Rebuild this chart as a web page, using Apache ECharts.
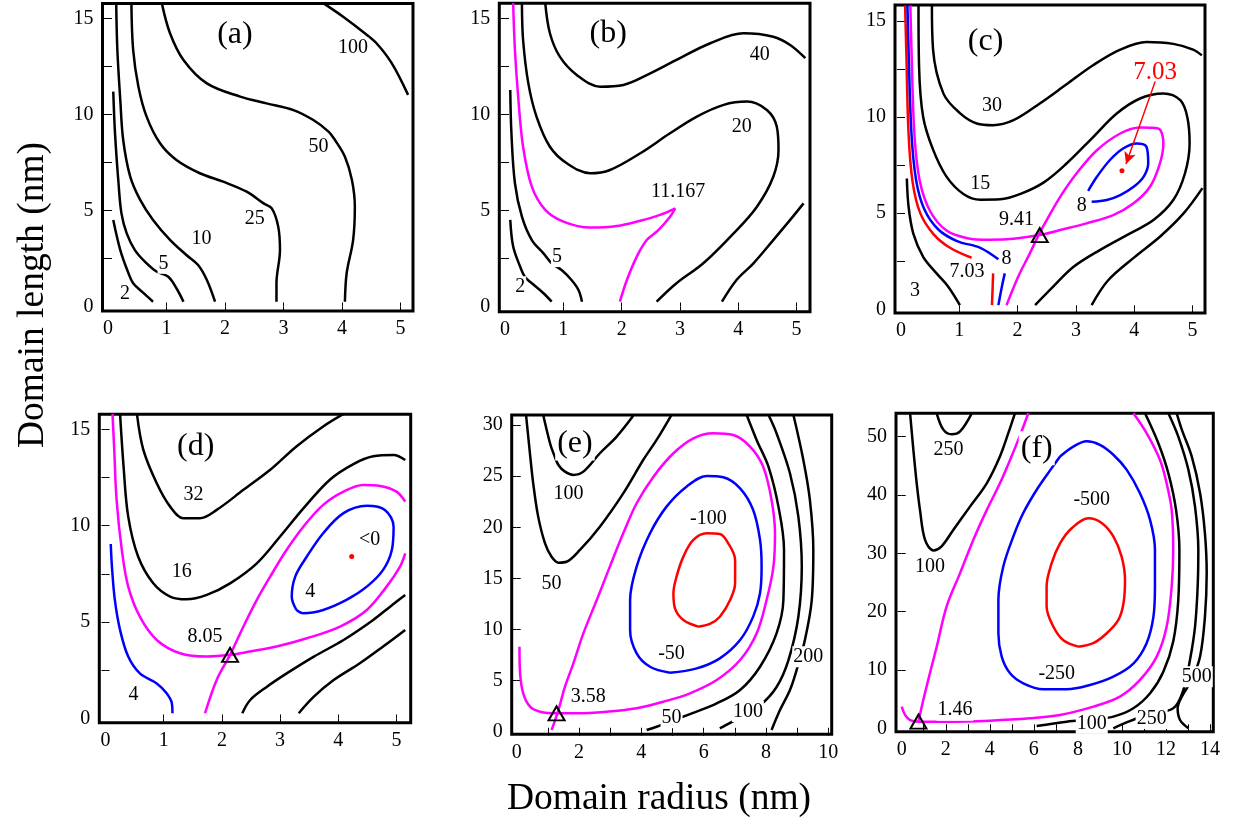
<!DOCTYPE html>
<html><head><meta charset="utf-8">
<script src="https://cdn.jsdelivr.net/npm/echarts@6/dist/echarts.min.js"></script>
<style>html,body{margin:0;padding:0;background:#fff}#c{width:1236px;height:832px}</style>
</head><body><div id="c"></div>
<script>
// ---------------- DATA ----------------
// Panel (a)
const a_2 = [[0.09,4.5],[0.21,2.94],[0.35,1.73],[0.43,1.21],[0.60,0.72],[0.77,0.25]];
const a_5 = [[0.09,11.19],[0.12,9.02],[0.18,6.42],[0.23,4.85],[0.32,3.81],[0.46,2.94],[0.63,2.34],[0.83,1.82],[1.03,1.55],[1.17,0.95],[1.29,0.25]];
const a_10 = [[0.14,15.8],[0.16,13.36],[0.21,10.76],[0.26,8.67],[0.38,6.76],[0.55,5.55],[0.77,4.51],[1.06,3.47],[1.34,2.68],[1.54,2.16],[1.69,1.38],[1.83,0.25]];
const a_25 = [[0.40,15.8],[0.43,13.36],[0.52,11.45],[0.66,9.89],[0.89,8.50],[1.17,7.63],[1.57,6.94],[1.97,6.50],[2.37,5.98],[2.66,5.37],[2.80,5.11],[2.91,4.16],[2.94,2.94],[2.88,1.21],[2.88,0.25]];
const a_50 = [[0.92,15.8],[1.06,14.23],[1.29,12.84],[1.69,11.62],[2.26,10.93],[2.71,10.58],[3.17,10.23],[3.51,9.71],[3.77,9.11],[3.88,8.67],[4.05,7.80],[4.17,6.59],[4.22,5.20],[4.19,3.46],[4.08,1.73],[4.05,0.25]];
const a_100 = [[3.68,15.8],[4.02,15.09],[4.39,14.23],[4.59,13.71],[4.85,12.67],[5.13,11.02]];
const a_labels = [[0.29,0.69,'2'],[0.95,2.25,'5'],[1.60,3.55,'10'],[2.51,4.59,'25'],[3.60,8.32,'50'],[4.19,13.45,'100']];

// Panel (b)
const b_2 = [[0.09,4.51],[0.14,3.12],[0.26,2.07],[0.34,1.55],[0.46,1.21],[0.66,0.69],[0.80,0.25]];
const b_5 = [[0.09,11.28],[0.11,9.02],[0.17,6.42],[0.29,4.68],[0.46,3.46],[0.66,2.77],[0.80,2.25],[0.97,1.90],[1.14,1.38],[1.26,0.86],[1.32,0.25]];
const b_m1 = [[0.14,15.8],[0.17,13.36],[0.23,10.76],[0.31,8.32],[0.46,6.24],[0.69,5.03],[1.00,4.42],[1.46,4.11],[1.92,4.19],[2.32,4.47],[2.66,4.77],[2.92,5.11]];
const b_m2 = [[2.92,5.11],[2.83,4.68],[2.63,3.98],[2.43,3.46],[2.26,2.60],[2.09,1.38],[1.97,0.25]];
const b_20 = [[0.29,15.8],[0.31,13.88],[0.40,11.62],[0.54,9.89],[0.77,8.32],[1.06,7.46],[1.46,6.94],[1.80,7.11],[2.32,7.98],[2.83,9.02],[3.29,9.89],[3.75,10.50],[4.15,10.67],[4.49,10.23],[4.66,9.37],[4.69,8.15],[4.60,6.76],[4.32,5.20],[3.92,3.81],[3.40,2.25],[2.94,1.21],[2.60,0.25]];
const b_40 = [[0.69,15.8],[0.77,14.23],[0.94,13.01],[1.23,12.06],[1.63,11.45],[2.03,11.54],[2.49,12.14],[2.94,12.84],[3.52,13.71],[4.09,14.23],[4.60,14.05],[4.89,13.62],[5.15,12.93]];
const b_hi = [[5.12,5.37],[4.89,4.51],[4.60,3.46],[4.26,2.25],[3.97,1.38],[3.72,0.25]];
const b_labels = [[0.26,1.03,'2'],[0.89,2.60,'5'],[2.97,5.98,'11.167'],[4.06,9.37,'20'],[4.37,13.10,'40']];

// Panel (c)
const c_3 = [[0.10,6.8],[0.13,5.33],[0.21,3.95],[0.38,2.73],[0.61,1.87],[0.81,1.18],[1.01,0.22]];
const c_r1 = [[0.07,15.8],[0.09,13.5],[0.13,9.1],[0.20,6.6],[0.33,5.0],[0.56,3.9],[0.84,3.2],[1.21,2.68]];
const c_r2 = [[1.58,1.87],[1.57,1.0],[1.56,0.22]];
const c_b1 = [[0.11,15.8],[0.13,13.5],[0.18,9.1],[0.26,6.7],[0.40,5.2],[0.64,4.15],[0.96,3.55],[1.36,3.2],[1.67,2.6]];
const c_b2 = [[1.78,1.87],[1.73,1.18],[1.67,0.22]];
const c_bi = [[3.21,6.16],[3.36,6.89],[3.58,7.75],[3.81,8.36],[4.04,8.62],[4.21,8.45],[4.24,7.58],[4.16,6.89],[3.99,6.37],[3.76,5.94],[3.53,5.68],[3.27,5.59]];
const c_m = [[0.16,15.8],[0.18,13.5],[0.23,9.1],[0.32,6.7],[0.50,5.1],[0.78,4.1],[1.14,3.7],[1.50,3.62],[1.81,3.64],[2.38,3.86],[2.73,4.12],[3.18,4.47],[3.64,4.90],[3.99,5.51],[4.27,6.37],[4.44,7.58],[4.50,8.62],[4.41,9.40],[4.10,9.45],[3.76,9.14],[3.36,8.27],[3.01,7.06],[2.73,5.85],[2.50,4.64],[2.36,3.86],[2.21,2.91],[2.01,1.70],[1.81,0.22]];
const c_15 = [[0.30,15.8],[0.31,12.6],[0.38,10.0],[0.55,8.3],[0.78,6.9],[1.07,6.0],[1.36,5.7],[1.70,5.72],[2.05,6.0],[2.45,6.6],[2.84,7.58],[3.30,8.97],[3.70,10.18],[4.10,10.96],[4.50,11.22],[4.79,10.87],[4.91,10.0],[4.95,8.62],[4.87,7.06],[4.67,5.68],[4.33,4.64],[3.93,3.95],[3.41,3.08],[2.96,2.21],[2.61,1.18],[2.30,0.22]];
const c_30 = [[0.53,15.8],[0.55,13.5],[0.73,11.2],[1.01,10.2],[1.30,9.66],[1.58,9.57],[1.93,9.83],[2.38,10.7],[2.84,11.7],[3.30,12.7],[3.76,13.5],[4.21,13.9],[4.67,13.8],[5.01,13.5],[5.16,13.2]];
const c_hi = [[5.17,6.3],[4.85,5.0],[4.45,3.8],[4.0,2.7],[3.55,1.5],[3.27,0.22]];
const c_labels = [[0.24,0.95,'3'],[1.13,1.95,'7.03'],[1.81,2.65,'8'],[1.98,4.64,'9.41'],[1.36,6.55,'15'],[1.56,10.6,'30'],[3.10,5.40,'8']];
const c_saddle = [[2.38,3.86]];
const c_min = [[3.79,7.20]];

// Panel (d)
const d_4a = [[0.09,9.05],[0.11,7.88],[0.16,6.15],[0.25,4.59],[0.39,3.21],[0.59,2.34],[0.88,1.82],[1.05,1.31],[1.14,0.79],[1.15,0.27]];
const d_m1 = [[0.12,15.8],[0.15,13.93],[0.19,11.34],[0.28,8.74],[0.39,6.84],[0.59,5.28],[0.88,4.07],[1.28,3.38],[1.74,3.21],[2.14,3.30],[2.48,3.47],[2.94,3.73],[3.46,4.16],[4.03,4.77],[4.49,5.63],[4.83,6.84],[5.06,7.88],[5.15,8.57]];
const d_m2 = [[5.15,11.25],[5.00,11.77],[4.72,12.06],[4.43,12.11],[4.09,11.77],[3.74,11.08],[3.40,9.95],[3.11,8.74],[2.83,7.36],[2.60,6.15],[2.37,4.77],[2.14,3.30],[1.91,2.00],[1.71,0.27]];
const d_4b = [[3.28,5.63],[3.20,6.32],[3.26,7.36],[3.46,8.40],[3.74,9.61],[4.09,10.65],[4.49,11.03],[4.80,10.82],[4.95,9.95],[4.92,8.74],[4.77,7.71],[4.49,6.84],[4.14,6.15],[3.74,5.63],[3.40,5.46],[3.28,5.63]];
const d_32 = [[4.09,15.8],[3.74,15.15],[3.28,14.11],[2.83,12.90],[2.37,11.86],[1.91,10.82],[1.62,10.39],[1.34,10.39],[1.11,10.99],[0.88,12.20],[0.65,13.93],[0.54,15.8]];
const d_16 = [[0.25,15.8],[0.31,13.07],[0.39,10.47],[0.56,8.40],[0.82,7.01],[1.11,6.32],[1.39,6.18],[1.74,6.41],[2.14,7.01],[2.60,8.05],[3.00,9.44],[3.40,10.9],[3.86,12.4],[4.26,13.2],[4.60,13.6],[4.95,13.67],[5.15,13.41]];
const d_h1 = [[2.35,0.27],[2.49,0.97],[2.78,1.66],[3.12,2.35],[3.58,3.21],[4.09,4.07],[4.60,5.11],[4.89,5.80],[5.15,6.40]];
const d_h2 = [[3.32,0.27],[3.58,1.13],[3.92,1.99],[4.37,2.86],[4.77,3.73],[5.15,4.59]];
const d_labels = [[0.48,1.22,'4'],[1.51,11.6,'32'],[1.31,7.62,'16'],[1.71,4.25,'8.05'],[3.52,6.58,'4'],[4.54,9.26,'<0']];
const d_saddle = [[2.14,3.30]];
const d_min = [[4.23,8.40]];

// Panel (e)
const e_100a = [[0.85,31.0],[1.07,28.22],[1.20,27.08],[1.34,26.09],[1.55,25.44],[1.82,25.12],[2.14,25.44],[2.67,27.24],[3.21,28.87],[3.74,30.9]];
const e_50a = [[0.30,31.0],[0.43,27.08],[0.53,24.30],[0.69,21.04],[0.91,18.43],[1.12,17.12],[1.34,16.54],[1.60,16.63],[2.03,17.78],[2.67,20.06],[3.42,23.32],[4.06,26.58],[4.49,28.54],[4.97,31.0]];
const e_m = [[0.09,8.32],[0.11,5.71],[0.21,3.76],[0.43,2.45],[0.75,1.96],[1.28,1.80],[1.92,1.80],[2.89,1.96],[3.85,2.29],[4.71,2.94],[5.56,3.76],[6.42,5.06],[7.17,7.02],[7.70,9.62],[8.02,12.88],[8.24,16.15],[8.29,19.41],[8.18,22.67],[7.91,25.93],[7.49,27.89],[6.95,29.03],[6.31,29.19],[5.67,28.70],[5.03,27.24],[4.39,24.95],[3.85,22.35],[3.42,19.41],[2.99,16.15],[2.57,12.88],[2.14,9.62],[1.82,6.69],[1.55,4.41],[1.34,2.12],[1.12,0.17]];
const e_b = [[4.92,5.77],[4.28,6.36],[3.85,7.67],[3.64,9.95],[3.64,12.88],[3.85,16.15],[4.28,19.41],[4.81,22.02],[5.45,23.97],[6.10,25.02],[6.63,24.89],[7.17,23.81],[7.59,21.69],[7.81,18.76],[7.86,16.15],[7.81,13.54],[7.59,11.26],[7.17,8.97],[6.52,7.18],[5.78,6.20],[4.92,5.77]];
const e_r = [[5.83,10.28],[5.35,10.93],[5.08,12.07],[5.03,13.54],[5.13,15.17],[5.35,17.13],[5.67,18.76],[6.10,19.41],[6.52,19.34],[6.79,18.43],[7.01,16.80],[7.01,14.52],[6.85,12.88],[6.52,11.25],[6.20,10.54],[5.83,10.28]];
const e_50b = [[4.17,0.17],[4.49,0.49],[5.0,1.1],[5.56,1.73],[6.42,2.77],[7.17,4.08],[7.81,6.36],[8.34,9.62],[8.56,12.88],[8.58,17.78],[8.40,22.02],[8.08,25.93],[7.70,28.54],[7.38,31.0]];
const e_100b = [[6.52,0.33],[7.17,1.40],[7.81,2.58],[8.34,4.38],[8.72,6.99],[9.04,11.25],[9.15,16.15],[9.04,21.04],[8.77,25.28],[8.34,29.19],[8.08,31.0]];
const e_200 = [[8.18,0.17],[8.45,2.12],[8.77,4.08],[9.0,6.2],[9.25,8.97],[9.47,12.88],[9.52,17.78],[9.41,22.67],[9.20,26.58],[8.88,31.0]];
const e_labels = [[1.66,23.32,'100'],[1.12,14.51,'50'],[6.15,20.88,'-100'],[4.97,7.67,'-50'],[2.30,3.43,'3.58'],[4.97,1.37,'50'],[7.42,1.98,'100'],[9.36,7.34,'200']];
const e_saddle = [[1.28,1.80]];

// Panel (f)
const f_250a = [[1.59,54.0],[1.89,51.2],[2.27,50.4],[2.65,50.9],[3.18,54.0]];
const f_100a = [[0.38,54.0],[0.53,47.7],[0.68,42.0],[0.83,37.4],[1.06,32.3],[1.44,30.5],[1.81,31.2],[2.34,34.0],[3.10,38.0],[3.86,42.0],[4.46,46.6],[4.84,50.6],[5.14,54.0]];
const f_m = [[0.00,3.7],[0.15,2.3],[0.38,1.4],[0.76,1.14],[2.04,1.14],[4.01,1.31],[5.83,1.71],[7.19,2.28],[8.70,3.71],[9.91,5.43],[10.82,8.29],[11.58,12.29],[12.03,17.4],[12.26,24.3],[12.33,30.6],[12.26,37.4],[12.03,42.0],[11.73,46.0],[11.12,50.6],[10.52,54.0]];
const f_m2 = [[0.76,1.14],[0.98,4.86],[1.28,9.43],[1.59,14.0],[2.04,20.9],[2.65,26.6],[3.25,32.3],[3.86,37.4],[4.46,42.0],[4.92,46.0],[5.35,50.0],[5.75,54.0]];
const f_b = [[7.19,46.6],[7.79,48.3],[8.40,49.2],[9.00,48.6],[9.61,46.9],[10.22,44.3],[10.82,40.3],[11.28,35.7],[11.50,30.6],[11.50,24.3],[11.43,19.1],[11.12,14.6],[10.52,11.1],[9.61,8.86],[8.55,7.43],[7.49,6.69],[6.43,6.69],[5.52,7.72],[4.92,9.43],[4.54,12.3],[4.39,16.3],[4.39,22.0],[4.61,27.7],[5.07,32.9],[5.52,36.9],[6.13,40.9],[6.81,44.6],[7.19,46.6]];
const f_r = [[8.02,14.0],[7.34,15.1],[6.89,17.4],[6.58,20.9],[6.58,24.3],[6.81,28.3],[7.19,31.7],[7.72,34.3],[8.48,36.0],[9.08,35.2],[9.61,32.9],[9.99,29.4],[10.14,25.4],[10.07,21.4],[9.84,18.6],[9.31,16.3],[8.70,14.6],[8.02,14.0]];
const f_100b = [[6.13,0.39],[7.49,1.14],[8.55,1.54],[9.61,2.0],[10.52,3.43],[11.28,6.0],[11.88,9.7],[12.33,14.9],[12.56,22.0],[12.61,30.6],[12.46,37.4],[12.11,43.7],[11.65,48.9],[11.05,54.0]];
const f_250b = [[9.61,0.0],[10.29,1.14],[11.12,2.28],[12.33,3.43],[12.79,6.57],[13.09,11.7],[13.32,17.4],[13.44,24.3],[13.47,30.6],[13.32,38.0],[13.02,44.3],[12.56,50.0],[12.11,54.0]];
const f_500 = [[13.02,0.0],[12.64,1.43],[12.53,3.43],[12.72,5.43],[13.17,8.29],[13.55,12.3],[13.77,19.1],[13.85,26.6],[13.77,33.4],[13.55,40.3],[13.17,46.6],[12.72,51.2],[12.49,54.0]];
const f_labels = [[2.12,47.7,'250'],[1.28,27.7,'100'],[8.63,39.2,'-500'],[7.04,9.4,'-250'],[2.42,3.1,'1.46'],[8.63,0.85,'100'],[11.35,1.7,'250'],[13.40,8.85,'500']];
const f_saddle = [[0.76,1.14]];

// Panel titles and tick labels
const panelNames = ['(a)','(b)','(c)','(d)','(e)','(f)'];
const panelNamePos = [[2.17,14.14],[1.77,14.23],[1.45,13.9],[1.55,14.1],[1.87,28.2],[6.13,48.0]];
const xTicksSmall = [0,1,2,3,4,5];
const xTicksE = [0,2,4,6,8,10];
const xTicksF = [0,2,4,6,8,10,12,14];
const yTicksSmall = [0,5,10,15];
const yTicksE = [0,5,10,15,20,25,30];
const yTicksF = [0,10,20,30,40,50];
const annot703 = [4.36,12.34,'7.03'];
const arrow703 = [[4.36,11.85],[3.86,7.55]];
const xTitle = 'Domain radius (nm)';
const yTitle = 'Domain length (nm)';

// ---------------- BUILD ----------------
const FONT = '"Liberation Serif","Times New Roman",serif';
const K = '#000000', M = '#ff00ff', B = '#0000ff', R = '#ff0000';
const panels = [
  {rect:[102.5,3.5,310.5,307.5], x:[-0.094,5.214], y:[-0.234,15.78], xt:xTicksSmall, yt:yTicksSmall, xm:[1,2,3,4,5], ym:[2.5,5,7.5,10,12.5,15]},
  {rect:[499.3,3.3,310.7,308.4], x:[-0.098,5.23], y:[-0.27,15.79], xt:xTicksSmall, yt:yTicksSmall, xm:[1,2,3,4,5], ym:[2.5,5,7.5,10,12.5,15]},
  {rect:[895,5,310,308], x:[-0.103,5.214], y:[-0.19,15.82], xt:xTicksSmall, yt:yTicksSmall, xm:[1,2,3,4,5], ym:[2.5,5,7.5,10,12.5,15]},
  {rect:[99.3,414.3,311.4,308.4], x:[-0.107,5.244], y:[-0.22,15.78], xt:xTicksSmall, yt:yTicksSmall, xm:[1,2,3,4,5], ym:[2.5,5,7.5,10,12.5,15]},
  {rect:[511.7,415,320,319.3], x:[-0.16,10.11], y:[-0.25,30.98], xt:xTicksE, yt:yTicksE, xm:[1,2,3,4,5,6,7,8,9,10], ym:[5,10,15,20,25,30]},
  {rect:[896,413.3,317.3,318.4], x:[-0.26,14.15], y:[-0.58,54.0], xt:xTicksF, yt:yTicksF, xm:[1,2,3,4,5,6,7,8,9,10,11,12,13,14], ym:[10,20,30,40,50]}
];
const LINES = [
  [0,a_2,K],[0,a_5,K],[0,a_10,K],[0,a_25,K],[0,a_50,K],[0,a_100,K],
  [1,b_2,K],[1,b_5,K],[1,b_m1,M],[1,b_m2,M],[1,b_20,K],[1,b_40,K],[1,b_hi,K],
  [2,c_3,K],[2,c_r1,R],[2,c_r2,R],[2,c_b1,B],[2,c_b2,B],[2,c_bi,B],[2,c_m,M],[2,c_15,K],[2,c_30,K],[2,c_hi,K],
  [3,d_4a,B],[3,d_m1,M],[3,d_m2,M],[3,d_4b,B],[3,d_32,K],[3,d_16,K],[3,d_h1,K],[3,d_h2,K],
  [4,e_100a,K],[4,e_50a,K],[4,e_m,M],[4,e_b,B],[4,e_r,R],[4,e_50b,K],[4,e_100b,K],[4,e_200,K],
  [5,f_250a,K],[5,f_100a,K],[5,f_m,M],[5,f_m2,M],[5,f_b,B],[5,f_r,R],[5,f_100b,K],[5,f_250b,K],[5,f_500,K]
];
const LABELS = [a_labels,b_labels,c_labels,d_labels,e_labels,f_labels];
const SADDLES = [[2,c_saddle],[3,d_saddle],[4,e_saddle],[5,f_saddle]];
const MINS = [[2,c_min],[3,d_min]];

const grid=[], xAxis=[], yAxis=[], series=[];
panels.forEach((p,i)=>{
  grid.push({left:p.rect[0],top:p.rect[1],width:p.rect[2],height:p.rect[3],show:true,borderColor:'#000',borderWidth:3,backgroundColor:'rgba(0,0,0,0)'});
  const tick = {show:true,inside:true,length:4,lineStyle:{color:'#000',width:1}};
  xAxis.push({gridIndex:i,type:'value',min:p.x[0],max:p.x[1],position:'bottom',axisLine:{show:false},splitLine:{show:false},
    axisTick:Object.assign({customValues:p.xm},tick),
    axisLabel:{customValues:p.xt,fontFamily:FONT,fontSize:20,color:'#000',margin:8}});
  xAxis.push({gridIndex:i,type:'value',min:p.x[0],max:p.x[1],position:'top',axisLine:{show:false},splitLine:{show:false},
    axisTick:Object.assign({customValues:p.xm},tick),axisLabel:{show:false}});
  yAxis.push({gridIndex:i,type:'value',min:p.y[0],max:p.y[1],position:'left',axisLine:{show:false},splitLine:{show:false},
    axisTick:Object.assign({customValues:p.ym},tick),
    axisLabel:{customValues:p.yt,fontFamily:FONT,fontSize:20,color:'#000',margin:9}});
  yAxis.push({gridIndex:i,type:'value',min:p.y[0],max:p.y[1],position:'right',axisLine:{show:false},splitLine:{show:false},
    axisTick:Object.assign({customValues:p.ym},tick),axisLabel:{show:false}});
});
LINES.forEach(([pi,data,color])=>{
  series.push({type:'line',xAxisIndex:2*pi,yAxisIndex:2*pi,data:data,symbol:'none',showSymbol:false,smooth:0.35,
    clip:true,silent:true,lineStyle:{color:color,width:2.5},z:3});
});
const HID = {color:'rgba(0,0,0,0)',borderWidth:0,opacity:1};
const lblStyle = {show:true,position:'inside',formatter:'{b}',fontFamily:FONT,fontSize:20,color:'#000',backgroundColor:'#fff',padding:[0,1],lineHeight:21,textBorderWidth:0,opacity:1};
LABELS.forEach((arr,pi)=>{
  series.push({type:'scatter',xAxisIndex:2*pi,yAxisIndex:2*pi,symbolSize:2,itemStyle:HID,silent:true,z:6,
    data:arr.map(d=>({name:d[2],value:[d[0],d[1]]})),label:lblStyle});
});
panelNames.forEach((n,pi)=>{
  series.push({type:'scatter',xAxisIndex:2*pi,yAxisIndex:2*pi,symbolSize:2,itemStyle:HID,silent:true,z:7,
    data:[{name:n,value:panelNamePos[pi]}],label:Object.assign({},lblStyle,{fontSize:32,lineHeight:34,padding:[0,2]})});
});
SADDLES.forEach(([pi,d])=>{
  series.push({type:'scatter',xAxisIndex:2*pi,yAxisIndex:2*pi,symbol:'triangle',symbolSize:[16,14],silent:true,z:8,
    itemStyle:{color:'rgba(0,0,0,0)',borderColor:'#000',borderWidth:2,opacity:1},data:d});
});
MINS.forEach(([pi,d])=>{
  series.push({type:'scatter',xAxisIndex:2*pi,yAxisIndex:2*pi,symbol:'circle',symbolSize:5,silent:true,z:8,
    itemStyle:{color:R,opacity:1},data:d});
});
// red annotation in (c)
series.push({type:'scatter',xAxisIndex:4,yAxisIndex:4,symbolSize:2,itemStyle:HID,silent:true,z:8,
  data:[{name:annot703[2],value:[annot703[0],annot703[1]]}],
  label:Object.assign({},lblStyle,{color:R,fontSize:25,lineHeight:26,backgroundColor:'transparent'}),
  markLine:{silent:true,symbol:['none','arrow'],symbolSize:[9,12],label:{show:false},lineStyle:{color:R,width:1.5,type:'solid',opacity:1},
    data:[[{coord:arrow703[0]},{coord:arrow703[1]}]]}});

const chart = echarts.init(document.getElementById('c'),null,{renderer:'canvas'});
chart.setOption({
  animation:false,
  backgroundColor:'#fff',
  grid:grid, xAxis:xAxis, yAxis:yAxis, series:series,
  graphic:[
    {type:'text',x:659,y:799,style:{text:xTitle,font:'37.5px '+FONT,fill:'#000',textAlign:'center',textVerticalAlign:'middle'}},
    {type:'text',x:33,y:295,rotation:Math.PI/2,style:{text:yTitle,font:'37.5px '+FONT,fill:'#000',textAlign:'center',textVerticalAlign:'middle'}}
  ]
});
</script></body></html>
